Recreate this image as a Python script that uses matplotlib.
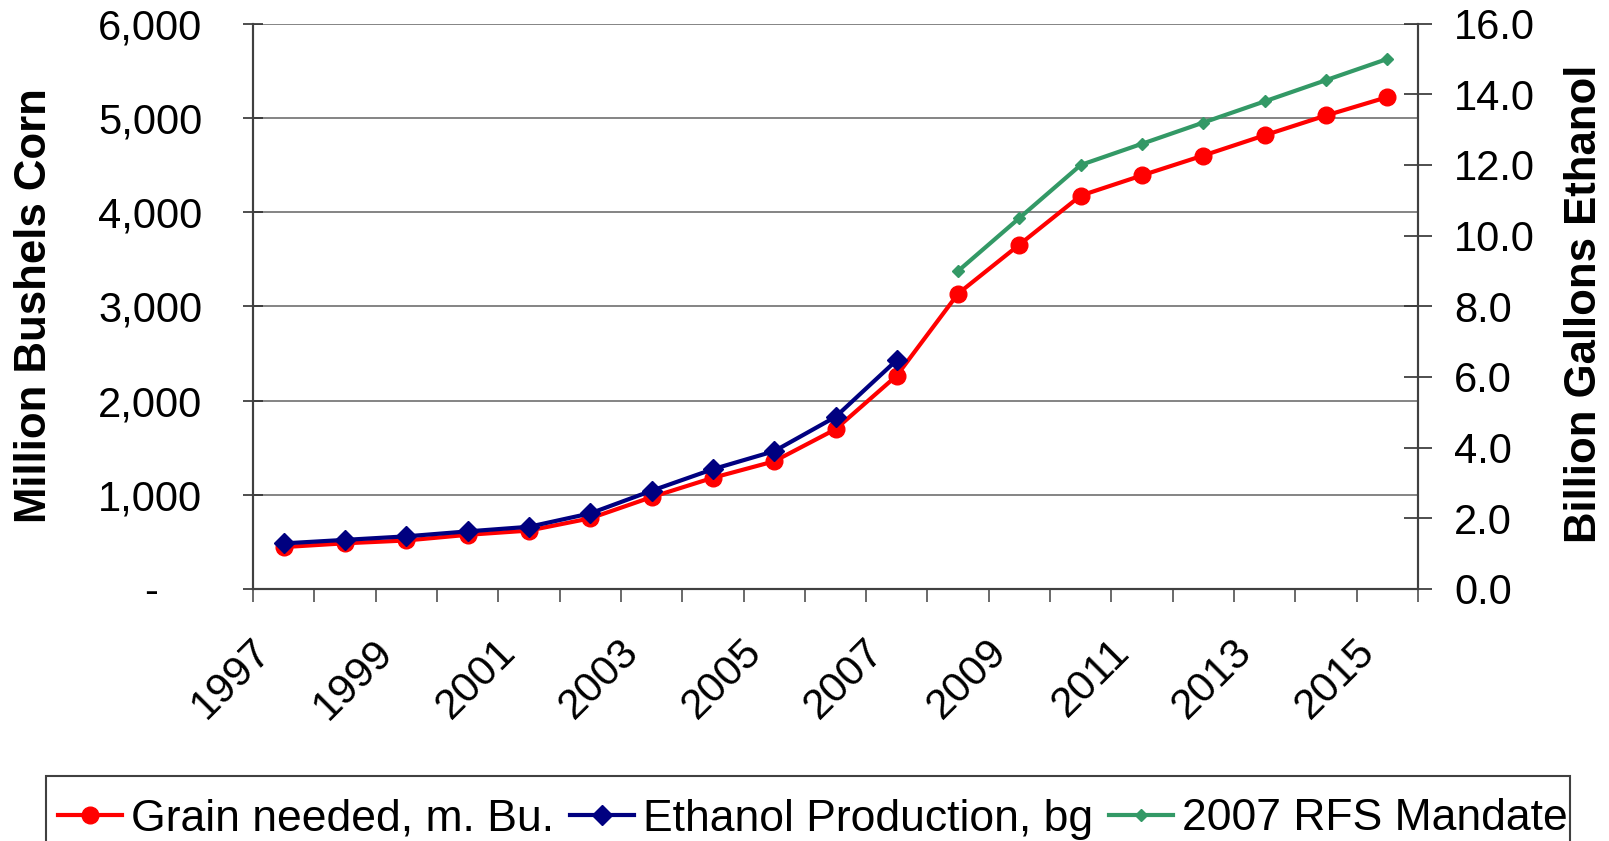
import matplotlib
matplotlib.use('Agg')
import matplotlib.pyplot as plt
from matplotlib.ticker import FixedLocator
from matplotlib.transforms import ScaledTranslation
from matplotlib.patches import Rectangle

# ---- data ----
years = [str(y) for y in range(1997, 2016)]
grain_needed = [445, 485, 515, 575, 620, 750, 975, 1180, 1355, 1695, 2265,
                3135, 3655, 4175, 4390, 4600, 4815, 5025, 5220]
ethanol_years = years[:11]
ethanol_production = [1.29, 1.39, 1.49, 1.63, 1.76, 2.14, 2.78, 3.39, 3.90, 4.87, 6.48]
rfs_years = years[11:]
rfs_mandate = [9.0, 10.5, 12.0, 12.6, 13.2, 13.8, 14.4, 15.0]
left_ticks = [0, 1000, 2000, 3000, 4000, 5000, 6000]
left_labels = ['-', '1,000', '2,000', '3,000', '4,000', '5,000', '6,000']
right_ticks = [0, 2, 4, 6, 8, 10, 12, 14, 16]
right_labels = ['0.0', '2.0', '4.0', '6.0', '8.0', '10.0', '12.0', '14.0', '16.0']

plt.rcParams['font.family'] = ['Liberation Sans', 'DejaVu Sans']

W, H = 1609, 841
fig = plt.figure(figsize=(W / 100, H / 100), dpi=100)
L, R, T, B = 253, 1418, 23.6, 589
ax = fig.add_axes([L / W, 1 - B / H, (R - L) / W, (B - T) / H])
ax2 = ax.twinx()

xpos = list(range(len(years)))
idx = {y: i for i, y in enumerate(years)}

red = '#FF0000'
navy = '#000080'
green = '#339966'

l1, = ax.plot(xpos, grain_needed, color=red, lw=3.0, marker='o', ms=12,
              label='Grain needed, m. Bu.', zorder=3)
l2, = ax2.plot([idx[y] for y in ethanol_years], ethanol_production, color=navy, lw=3.0,
               marker='D', ms=10.5, label='Ethanol Production, bg', zorder=3)
l3, = ax2.plot([idx[y] for y in rfs_years], rfs_mandate, color=green, lw=3.0,
               marker='D', ms=6.5, label='2007 RFS Mandate', zorder=3)

ax.set_xlim(-0.5, len(years) - 0.5)
ax.set_ylim(0, 6000)
ax2.set_ylim(0, 16)

ax.yaxis.set_major_locator(FixedLocator(left_ticks))
ax.set_yticklabels(left_labels)
ax2.yaxis.set_major_locator(FixedLocator(right_ticks))
ax2.set_yticklabels(right_labels)

ax.grid(axis='y', color='#707070', lw=1.2)
ax.set_axisbelow(True)

# x ticks: boundaries as minor ticks, labels every other year
ax.set_xticks([i - 0.5 for i in range(len(years) + 1)], minor=True)
ax.set_xticks(xpos[::2])
ax.set_xticklabels(years[::2], rotation=45, ha='right', va='center',
                   rotation_mode='anchor', fontsize=30.5)
ax.tick_params(axis='x', which='major', length=0, pad=41)
ax.tick_params(axis='x', which='minor', length=9, width=1.2, color='#505050', direction='out')
for lab in ax.get_xticklabels():
    lab.set_transform(lab.get_transform() + ScaledTranslation(-0.19, 0, fig.dpi_scale_trans))

ax.tick_params(axis='y', which='major', length=15, width=1.2, color='#303030',
               direction='inout', labelsize=30, pad=29)
ax2.tick_params(axis='y', which='major', length=20, width=1.2, color='#303030',
                direction='inout', labelsize=30, pad=16)
# shift dash label for zero (accounting format)
zl = ax.get_yticklabels()[0]
zl.set_text('-')
zl.set_transform(zl.get_transform() + ScaledTranslation(-0.44, 0, fig.dpi_scale_trans))

for a in (ax, ax2):
    a.spines['top'].set_visible(False)
    for s in ('left', 'right', 'bottom'):
        a.spines[s].set_color('#404040')
        a.spines[s].set_linewidth(1.5)

fig.text(35 / W, 1 - 306 / H, 'Million Bushels Corn', rotation=90, ha='center', va='center',
         fontsize=31.5, fontweight='bold')
fig.text(1585 / W, 1 - 304 / H, 'Billion Gallons Ethanol', rotation=90, ha='center', va='center',
         fontsize=31.5, fontweight='bold')

# legend box
fig.patches.append(Rectangle((46 / W, -0.05), (1570 - 46) / W, 0.05 + 1 - 776 / H,
                             transform=fig.transFigure, fill=False, edgecolor='#404040',
                             lw=1.5))
leg = fig.legend(handles=[l1, l2, l3], loc='center left',
                 bbox_to_anchor=(58 / W, 1 - 819 / H), ncol=3, frameon=False,
                 fontsize=32, handlelength=1.45, handletextpad=0.2, columnspacing=0.35,
                 borderaxespad=0, borderpad=0)

fig.savefig('out.png', dpi=100)
